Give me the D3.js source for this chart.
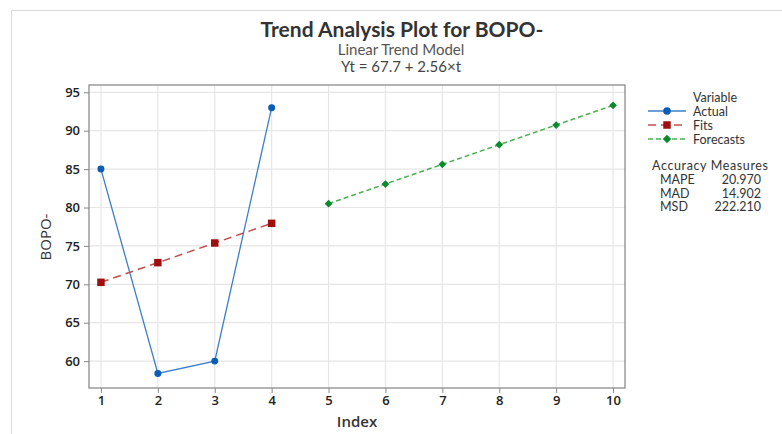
<!DOCTYPE html>
<html><head><meta charset="utf-8">
<script src="https://cdn.jsdelivr.net/npm/d3@7"></script>
<style>
body{margin:0;background:#fff;}
text{font-family:"Open Sans","Noto Sans",sans-serif;}
.lt{font-family:Lato,"Open Sans",sans-serif;}
</style></head><body>
<svg id="c" width="782" height="434"></svg>
<script>
const actualX = [1,2,3,4];
const actualY = [85,58.4,60,93];
const fitsX = [1,2,3,4];
const fitsY = [70.26,72.82,75.38,77.94];
const forecastX = [5,6,7,8,9,10];
const forecastY = [80.5,83.06,85.62,88.18,90.74,93.3];
const xTicks = [1,2,3,4,5,6,7,8,9,10];
const yTicks = [60,65,70,75,80,85,90,95];
const accLabels = ["MAPE","MAD","MSD"];
const accValues = ["20.970","14.902","222.210"];

const svg = d3.select("#c");
svg.append("path").attr("d","M11.5,434 V10.5 H782").attr("fill","none").attr("stroke","#d9d9d9");

const L=89,R=625,T=85,B=388;
const x = d3.scaleLinear().domain([0.79,10.21]).range([L,R]);
const y = d3.scaleLinear().domain([56.5,95.95]).range([B,T]);

svg.append("g").selectAll("line").data(xTicks).join("line")
  .attr("x1",d=>x(d)).attr("x2",d=>x(d)).attr("y1",T).attr("y2",B)
  .attr("stroke","#e6e6e6").attr("stroke-width",1.2);
svg.append("g").selectAll("line").data(yTicks).join("line")
  .attr("x1",L).attr("x2",R).attr("y1",d=>y(d)).attr("y2",d=>y(d))
  .attr("stroke","#e6e6e6").attr("stroke-width",1.2);

const xa = svg.append("g").attr("transform",`translate(0,${B})`)
  .call(d3.axisBottom(x).tickValues(xTicks).tickSize(5).tickPadding(3).tickFormat(d3.format("d")));
const ya = svg.append("g").attr("transform",`translate(${L},0)`)
  .call(d3.axisLeft(y).tickValues(yTicks).tickSize(5).tickPadding(4).tickFormat(d3.format("d")));
[xa,ya].forEach(a=>{
  a.select(".domain").remove();
  a.selectAll("line").attr("stroke","#888");
  a.selectAll("text").attr("fill","#222").style("font-size","13px").style("font-weight","600")
    .style("font-family","'Open Sans',sans-serif");
});
svg.append("rect").attr("x",L).attr("y",T).attr("width",R-L).attr("height",B-T)
  .attr("fill","none").attr("stroke","#8c8c8c").attr("stroke-width",1.3);

const line = d3.line().x(d=>x(d[0])).y(d=>y(d[1]));
const act = actualX.map((v,i)=>[v,actualY[i]]);
const fit = fitsX.map((v,i)=>[v,fitsY[i]]);
const fc = forecastX.map((v,i)=>[v,forecastY[i]]);

svg.append("path").datum(fit).attr("d",line).attr("fill","none")
  .attr("stroke","#c0504d").attr("stroke-width",1.5).attr("stroke-dasharray","8,5");
svg.append("path").datum(fc).attr("d",line).attr("fill","none")
  .attr("stroke","#4caf50").attr("stroke-width",1.5).attr("stroke-dasharray","5,3");
svg.append("path").datum(act).attr("d",line).attr("fill","none")
  .attr("stroke","#3b7fc8").attr("stroke-width",1.3);

const sym = (type,size)=>d3.symbol().type(type).size(size)();
svg.append("g").selectAll("path").data(fit).join("path")
  .attr("transform",d=>`translate(${x(d[0])},${y(d[1])})`).attr("d",sym(d3.symbolSquare,56)).attr("fill","#9e1010");
svg.append("g").selectAll("path").data(fc).join("path")
  .attr("transform",d=>`translate(${x(d[0])},${y(d[1])}) rotate(45)`).attr("d",sym(d3.symbolSquare,30)).attr("fill","#0a8a2a");
svg.append("g").selectAll("path").data(act).join("path")
  .attr("transform",d=>`translate(${x(d[0])},${y(d[1])})`).attr("d",sym(d3.symbolCircle,38)).attr("fill","#0a5cb4");

svg.append("text").attr("class","lt").attr("x",402).attr("y",37).attr("text-anchor","middle")
  .style("font-size","21px").style("font-weight","700").attr("fill","#333").text("Trend Analysis Plot for BOPO-");
svg.append("text").attr("class","lt").attr("x",401).attr("y",55).attr("text-anchor","middle")
  .style("font-size","15px").attr("fill","#555").text("Linear Trend Model");
svg.append("text").attr("class","lt").attr("x",401).attr("y",72).attr("text-anchor","middle")
  .style("font-size","15px").attr("fill","#444").text("Yt = 67.7 + 2.56×t");
svg.append("text").attr("x",(L+R)/2).attr("y",427).attr("text-anchor","middle")
  .style("font-size","15px").style("font-weight","600").attr("fill","#333").text("Index");
svg.append("text").attr("transform","translate(51,237) rotate(-90)").attr("text-anchor","middle")
  .style("font-size","15px").style("font-weight","500").attr("fill","#333").text("BOPO-");

const lg = svg.append("g");
lg.append("text").attr("class","lt").attr("x",693).attr("y",102).style("font-size","12.5px").attr("fill","#333").text("Variable");
const items = [
  {name:"Actual",stroke:"#3b7fc8",dash:null,fill:"#0a5cb4",type:d3.symbolCircle,size:45,rot:0},
  {name:"Fits",stroke:"#c0504d",dash:"8,5",fill:"#9e1010",type:d3.symbolSquare,size:56,rot:0},
  {name:"Forecasts",stroke:"#4caf50",dash:"5,3",fill:"#0a8a2a",type:d3.symbolSquare,size:36,rot:45}
];
items.forEach((it,i)=>{
  const yy = 111+i*14;
  lg.append("line").attr("x1",648).attr("x2",686).attr("y1",yy).attr("y2",yy)
    .attr("stroke",it.stroke).attr("stroke-width",1.5).attr("stroke-dasharray",it.dash);
  lg.append("path").attr("transform",`translate(667,${yy}) rotate(${it.rot})`).attr("d",sym(it.type,it.size)).attr("fill",it.fill);
  lg.append("text").attr("class","lt").attr("x",693).attr("y",yy+4.5).style("font-size","12.5px").attr("fill","#333").text(it.name);
});
lg.append("text").attr("class","lt").attr("x",652).attr("y",170).attr("textLength",116).style("font-size","12.5px").attr("fill","#333").text("Accuracy Measures");
accLabels.forEach((l,i)=>{
  const yy = 184+i*13.7;
  lg.append("text").attr("class","lt").attr("x",660).attr("y",yy).style("font-size","12.5px").attr("fill","#333").text(l);
  lg.append("text").attr("class","lt").attr("x",761).attr("y",yy).attr("text-anchor","end").style("font-size","12.5px").attr("fill","#333").text(accValues[i]);
});
</script></body></html>
